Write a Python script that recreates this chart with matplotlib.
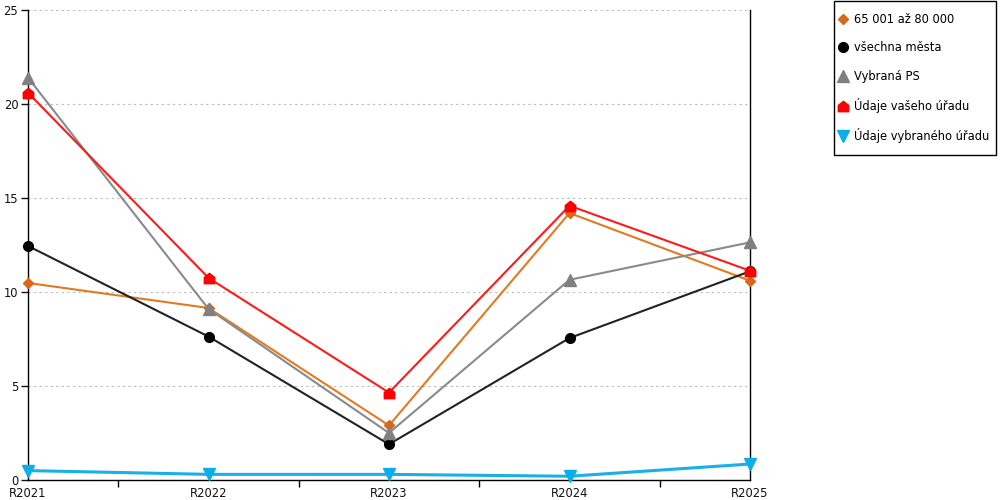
import matplotlib
matplotlib.use("Agg")
import matplotlib.pyplot as plt
from matplotlib.path import Path
from matplotlib.lines import Line2D
from matplotlib.patches import Rectangle

categories = ["R2021", "R2022", "R2023", "R2024", "R2025"]
s_orange = [10.48, 9.15, 2.9, 14.2, 10.6]
s_black = [12.45, 7.63, 1.9, 7.55, 11.1]
s_gray = [21.4, 9.1, 2.5, 10.65, 12.64]
s_red = [20.6, 10.75, 4.65, 14.59, 11.13]
s_blue = [0.5, 0.3, 0.3, 0.2, 0.85]
names = ["65 001 až 80 000", "všechna města", "Vybraná PS", "Údaje vašeho úřadu", "Údaje vybraného úřadu"]
yticks = [0, 5, 10, 15, 20, 25]

house = Path([(-1, -1), (1, -1), (1, 0.2), (0, 1), (-1, 0.2), (-1, -1)],
             [Path.MOVETO, Path.LINETO, Path.LINETO, Path.LINETO, Path.LINETO, Path.CLOSEPOLY])

plt.rcParams['font.family'] = ['DejaVu Sans']
fig = plt.figure(figsize=(10, 5), dpi=100)
ax = fig.add_axes([0.028, 0.04, 0.722, 0.94])

x = list(range(len(categories)))
styles = [
    (s_orange, "#E07B22", "D", "#D9661A", 5.5, 1.5),
    (s_black, "#222222", "o", "#000000", 7, 1.5),
    (s_gray, "#8A8A8A", "^", "#808080", 8, 1.5),
    (s_red, "#FF1A1A", house, "#FF0000", 7.5, 1.5),
    (s_blue, "#1AAFE6", "v", "#0AAFEA", 8, 2.2),
]
handles = []
for (vals, lc, mk, mc, ms, lw), name in zip(styles, names):
    ax.plot(x, vals, color=lc, lw=lw, marker=mk, markersize=ms,
            markerfacecolor=mc, markeredgecolor=mc, clip_on=False, zorder=3)
    handles.append(Line2D([], [], linestyle='none', marker=mk, markersize=ms,
                          markerfacecolor=mc, markeredgecolor=mc, label=name))

ax.set_xlim(0, 4)
ax.set_ylim(0, 25)
ax.set_yticks(yticks)
ax.set_xticks(x)
ax.set_xticklabels(categories)
ax.set_xticks([0, 0.5, 1.5, 2.5, 3.5, 4], minor=True)
ax.tick_params(axis='x', which='major', length=0, pad=5, labelsize=8.3, colors='#111111')
ax.tick_params(axis='x', which='minor', length=5, width=1, color='#000000')
ax.tick_params(axis='y', length=5, width=1, labelsize=8.3, pad=2, colors='#111111')
ax.yaxis.grid(True, linestyle=(0, (2, 3)), color='#BBBBBB', lw=0.8)
ax.set_axisbelow(True)
ax.spines['top'].set_visible(False)
for s in ['left', 'right', 'bottom']:
    ax.spines[s].set_color('#000000')
    ax.spines[s].set_linewidth(1)

fig.patches.append(Rectangle((0.834, 1 - 155 / 500), 0.162, 154 / 500,
                             transform=fig.transFigure, fill=False,
                             edgecolor='#000000', lw=1))
leg = fig.legend(handles=handles, loc='upper left', bbox_to_anchor=(0.8395, 0.974),
                 frameon=False, fontsize=8.3,
                 handlelength=0.6, handletextpad=0.7, labelspacing=1.33,
                 borderpad=0, borderaxespad=0)

fig.savefig("out.png", dpi=100)
